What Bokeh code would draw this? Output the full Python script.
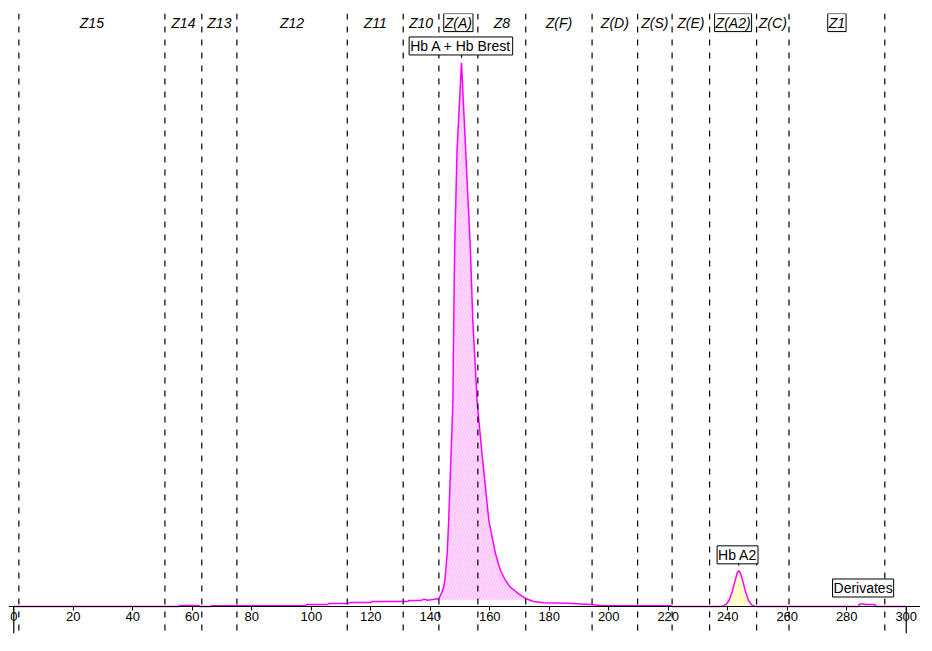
import numpy as np
from bokeh.plotting import figure
from bokeh.models import Span, Label, Range1d, FixedTicker
from bokeh.embed import file_html
from bokeh.resources import INLINE

# ---- data (retention time vs. signal) ----
trace_x = [0, 55.5, 56, 62, 62.5, 66, 66.5, 98, 98.5, 105.5, 106, 112.5, 113, 120, 120.5,
           132.5, 133, 137, 137.5, 138.5, 139, 141, 142.9, 143.7, 144.5, 144.9, 145.2, 145.7,
           146.2, 147.0, 147.6, 147.9, 148.2, 149.0, 150.5, 151.9, 153.5, 154.3, 155.8, 157.4,
           159.7, 161.9, 163.6, 165.3, 166.9, 169.7, 172.1, 174.7, 178.1, 186.1, 193.8, 197.2,
           220.7, 221.4, 237.5, 238.5, 239.5, 240.5, 241.5, 242.5, 243.2, 243.7, 244.2, 245.0,
           246.0, 247.0, 248.0, 249.0, 250.0, 284.0, 284.3, 286.0, 286.3, 289.5, 289.8, 300]
trace_y = [0, 0, 0.2, 0.2, 0, 0, 0.12, 0.18, 0.37, 0.37, 0.55, 0.55, 0.74, 0.74, 0.92,
           0.92, 1.1, 1.1, 1.3, 1.3, 1.15, 1.29, 1.47, 2.34, 3.55, 4.78, 6.62, 9.75,
           15.8, 28.1, 37.3, 52.6, 65.5, 83.9, 100.0, 83.9, 65.5, 52.6, 37.3, 28.1,
           15.8, 9.75, 6.62, 4.78, 3.55, 2.34, 1.47, 0.92, 0.68, 0.61, 0.37, 0.18,
           0.13, 0.0, 0.0, 0.1, 0.4, 1.2, 2.7, 4.8, 6.2, 6.6, 6.2, 4.8,
           2.7, 1.1, 0.3, 0.05, 0.0, 0.0, 0.45, 0.45, 0.35, 0.35, 0.0, 0.0]

zone_bounds = [1.7, 50.8, 63.2, 75.0, 112.1, 130.9, 142.9, 156.0, 172.1, 194.4, 209.7,
               221.3, 233.9, 249.7, 260.6, 292.8]
zone_names = ["Z15", "Z14", "Z13", "Z12", "Z11", "Z10", "Z(A)", "Z8", "Z(F)", "Z(D)",
              "Z(S)", "Z(E)", "Z(A2)", "Z(C)", "Z1"]
zone_boxed = ["Z(A)", "Z(A2)", "Z1"]

peak_names = ["Hb A + Hb Brest", "Hb A2", "Derivates"]
peak_label_x = [150.3, 243.3, 285.5]
peak_label_y = [103.1, 9.5, 3.4]
peak_apex_x = [150.5, 243.7, None]
peak_apex_y = [100.0, 6.6, None]

hba_window = (142.9, 172.1)   # integration window of main peak
hba_base = 1.23               # integration baseline of main peak
a2_window = (238.5, 248.0)

x_ticks = list(range(0, 301, 20))
x_min, x_max = 0, 300

# ---- figure ----
p = figure(width=920, height=641, output_backend="svg", toolbar_location=None,
           x_range=Range1d(-1.78, 304.8), y_range=Range1d(-4.97, 109.07),
           y_axis_location=None, min_border_left=8, min_border_right=0,
           min_border_top=13, min_border_bottom=8)
p.outline_line_color = None
p.xgrid.visible = False
p.ygrid.visible = False
p.background_fill_color = "white"
p.border_fill_color = "white"

tx = np.array(trace_x)
ty = np.array(trace_y)

# fills
m = (tx >= hba_window[0]) & (tx <= hba_window[1])
p.varea(x=tx[m], y1=np.full(m.sum(), hba_base), y2=ty[m], fill_color="#ffc4ff",
        hatch_pattern="/", hatch_color="white", hatch_alpha=0.55, hatch_scale=6, hatch_weight=1)
m2 = (tx >= a2_window[0]) & (tx <= a2_window[1])
p.varea(x=tx[m2], y1=np.zeros(m2.sum()), y2=ty[m2], fill_color="#ffffc8")

# zone dashed lines
for b in zone_bounds:
    p.add_layout(Span(location=b, dimension="height", line_color="black",
                      line_dash="6 7", line_width=1.2))

# axis
ax = p.xaxis[0]
ax.fixed_location = 0
ax.ticker = FixedTicker(ticks=x_ticks)
ax.minor_tick_line_color = None
ax.major_tick_in = 0
ax.major_tick_out = 4
ax.axis_line_color = "black"
ax.axis_line_width = 1.2
ax.major_tick_line_color = "black"
ax.major_label_text_font = "Liberation Sans"
ax.major_label_text_font_size = "13px"
ax.major_label_text_color = "black"
ax.major_label_standoff = 2

# long ticks at range ends
p.segment(x0=[x_min, x_max], y0=[0, 0], x1=[x_min, x_max], y1=[p.y_range.start] * 2,
          line_color="black", line_width=1.2)

# trace
p.line(tx, ty, line_color="#ff00ff", line_width=1.5)

# zone labels
for i, name in enumerate(zone_names):
    cx = (zone_bounds[i] + zone_bounds[i + 1]) / 2
    boxed = name in zone_boxed
    p.add_layout(Label(x=cx, y=107.4, text=name, text_align="center", text_baseline="middle",
                       text_font="Liberation Sans", text_font_style="italic",
                       text_font_size="14px", text_color="black",
                       background_fill_color="white" if boxed else None,
                       border_line_color="black" if boxed else None,
                       border_line_width=1, padding=1))

# peak labels
for i, name in enumerate(peak_names):
    if peak_apex_x[i] is not None:
        p.segment(x0=[peak_apex_x[i]], y0=[peak_apex_y[i] + 0.9], x1=[peak_apex_x[i]],
                  y1=[peak_label_y[i] - 1.5], line_color="black", line_width=1)
    p.add_layout(Label(x=peak_label_x[i], y=peak_label_y[i], text=name, text_align="center",
                       text_baseline="middle", text_font="Liberation Sans",
                       text_font_size="14px", text_color="black",
                       background_fill_color="white", border_line_color="black",
                       border_line_width=1, padding=1))

open("out.html", "w").write(file_html(p, INLINE))
